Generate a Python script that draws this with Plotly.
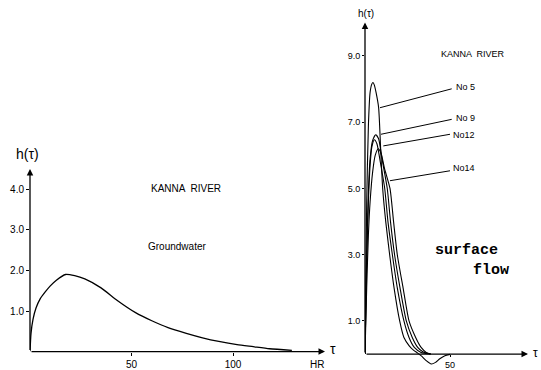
import plotly.graph_objects as go

W, H = 541, 370

# ---------------- data ----------------
# Groundwater unit hydrograph (left panel)
gw_tau = [0, 0.5, 1.5, 3, 5, 7.5, 10, 13, 17.5, 22, 27, 35, 43, 52, 60, 68, 77, 85, 93, 102, 110, 118, 129]
gw_h = [0.0, 0.45, 0.8, 1.08, 1.3, 1.47, 1.62, 1.76, 1.9, 1.87, 1.79, 1.57, 1.26, 0.96, 0.76, 0.59, 0.45, 0.34, 0.25, 0.17, 0.12, 0.07, 0.03]

# Surface flow unit hydrographs (right panel)
no5_tau = [0, 1, 2, 3, 4, 4.7, 5.5, 6.5, 8, 9.2, 10.4, 12.2, 14.5, 17.1, 20.4, 22.9, 26, 28.5, 31, 33.5, 36, 39, 41.5, 44, 47, 50]
no5_h = [0, 4.6, 6.9, 7.9, 8.15, 8.2, 8.12, 7.9, 7.45, 6.2, 5.0, 4.0, 3.0, 2.0, 1.0, 0.5, 0.25, 0.12, 0.03, -0.07, -0.2, -0.3, -0.25, -0.14, -0.05, -0.01]

no9_tau = [0, 1, 2, 3, 4.5, 6.3, 8, 10, 13.1, 15, 17.4, 20.6, 24.3, 27.8, 31, 34, 38.6]
no9_h = [0, 3.0, 4.9, 5.9, 6.45, 6.62, 6.5, 5.9, 5.0, 4.0, 3.0, 2.0, 1.0, 0.5, 0.2, 0.07, 0]

no12_tau = [0, 1, 2, 3, 4, 5.5, 7, 9, 11.6, 13.5, 16.1, 19, 22.9, 25.9, 29, 33, 38.6]
no12_h = [0, 2.8, 4.6, 5.7, 6.25, 6.47, 6.35, 5.8, 5.0, 4.0, 3.0, 2.0, 1.0, 0.5, 0.2, 0.05, 0]

no14_tau = [0, 1, 2, 3, 4.5, 6, 7.8, 9.5, 11.5, 14.7, 16.8, 19, 22.4, 25.9, 29.8, 33, 36, 38.6]
no14_h = [0, 2.0, 3.6, 4.6, 5.5, 6.0, 6.2, 6.05, 5.6, 5.0, 4.0, 3.0, 2.0, 1.0, 0.5, 0.2, 0.05, 0]

left_yticks = [1, 2, 3, 4]
left_yticklabels = ["1.0", "2.0", "3.0", "4.0"]
left_xticks = [50, 100]
left_xticklabels = ["50", "100"]
right_yticks = [1, 3, 5, 7, 9]
right_yticklabels = ["1.0", "3.0", "5.0", "7.0", "9.0"]
right_xticks = [50]
right_xticklabels = ["50"]

series_names = ["No 5", "No 9", "No12", "No14"]

# ---------------- figure ----------------
def px(x):
    return x / W


def py(y):
    return 1 - y / H


LINE = dict(color="black", width=1.3)
FONT = "Liberation Sans"

fig = go.Figure()
fig.add_trace(go.Scatter(x=gw_tau, y=gw_h, mode="lines", line=dict(color="black", width=1.3, shape="spline", smoothing=0.6),
                         xaxis="x", yaxis="y", showlegend=False, hoverinfo="skip"))
for t, h, n in [(no5_tau, no5_h, series_names[0]), (no9_tau, no9_h, series_names[1]),
                (no12_tau, no12_h, series_names[2]), (no14_tau, no14_h, series_names[3])]:
    fig.add_trace(go.Scatter(x=t, y=h, mode="lines", name=n,
                             line=dict(color="black", width=1.1, shape="spline", smoothing=0.6),
                             xaxis="x2", yaxis="y2", showlegend=False, hoverinfo="skip"))

# Left panel geometry: origin (30, 353.5), 2.03 px/hr, 40.8 px/unit
lx0, lx1 = 30, 325
ly0, ly1 = 353.5, 170
lxmax = (lx1 - lx0) / 2.03
lymax = (ly0 - ly1) / 40.8

# Right panel geometry: origin (365, 356), 1.7 px/hr, 33.3 px/unit
rx0, rx1 = 365, 528
rbase = 356
rbot, rtop = 369.3, 22.7
rxmax = (rx1 - rx0) / 1.7
rymin = -(rbot - rbase) / 33.3
rymax = (rbase - rtop) / 33.3

tickfont_l = dict(family=FONT, size=10, color="black")
tickfont_r = dict(family=FONT, size=9, color="black")

fig.update_layout(
    width=W, height=H, margin=dict(l=0, r=0, t=0, b=0),
    paper_bgcolor="white", plot_bgcolor="white",
    xaxis=dict(domain=[px(lx0), px(lx1)], range=[0, lxmax], showgrid=False, zeroline=False, showline=False,
               tickvals=left_xticks, ticktext=left_xticklabels, ticks="outside", ticklen=3, tickcolor="black",
               tickfont=tickfont_l, anchor="y"),
    yaxis=dict(domain=[py(ly0), py(ly1)], range=[0, lymax], showgrid=False, zeroline=False, showline=False,
               tickvals=left_yticks, ticktext=left_yticklabels, ticks="outside", ticklen=3, tickcolor="black",
               tickfont=tickfont_l, anchor="x"),
    xaxis2=dict(domain=[px(rx0), px(rx1)], range=[0, rxmax], showgrid=False, zeroline=False, showline=False,
                tickvals=right_xticks, ticktext=right_xticklabels, ticks="outside", ticklen=2, tickcolor="black",
                tickfont=tickfont_r, anchor="free", position=py(rbase)),
    yaxis2=dict(domain=[py(rbot), py(rtop)], range=[rymin, rymax], showgrid=False, zeroline=False, showline=False,
                tickvals=right_yticks, ticktext=right_yticklabels, ticks="outside", ticklen=2, tickcolor="black",
                tickfont=tickfont_r, anchor="x2"),
)

ann = []
# axis arrows
for xr, yr, x, y in [("x", "y", lxmax, 0), ("x", "y", 0, lymax), ("x2", "y2", rxmax, 0), ("x2", "y2", 0, rymax)]:
    ann.append(dict(x=x, y=y, ax=0, ay=0, xref=xr, yref=yr, axref=xr, ayref=yr, text="", showarrow=True,
                    arrowhead=2, arrowsize=1, arrowwidth=1.3, arrowcolor="black", standoff=0, startstandoff=0))


def txt(s, x, y, size, xanchor="center", family=FONT, bold=False):
    ann.append(dict(text=("<b>%s</b>" % s) if bold else s, x=px(x), y=py(y), xref="paper", yref="paper",
                    showarrow=False, xanchor=xanchor, yanchor="middle",
                    font=dict(family=family, size=size, color="black")))


txt("h(τ)", 27, 155, 14)
txt("τ", 333, 351, 14)
txt("HR", 317, 366, 10)
txt("KANNA  RIVER", 186, 190, 10)
txt("Groundwater", 177, 248, 10)
txt("h(τ)", 366, 14, 10)
txt("τ", 535, 355, 12)
txt("KANNA  RIVER", 473, 54, 9)
txt("surface", 466, 252, 15, family="Liberation Mono", bold=True)
txt("flow", 511, 272, 15, xanchor="right", family="Liberation Mono", bold=True)

# pointer labels for surface-flow curves
pointers = [((380, 108.3), (451.7, 89.3), (454, 87)),
            ((381, 135), (451.7, 120), (454, 119)),
            ((383.3, 146.7), (450, 135), (451, 136)),
            ((390, 181.7), (450, 171.7), (451, 169))]
shapes = []
for name, (p0, p1, pt) in zip(series_names, pointers):
    shapes.append(dict(type="line", xref="x2", yref="y2",
                       x0=(p0[0] - rx0) / 1.7, y0=(rbase - p0[1]) / 33.3,
                       x1=(p1[0] - rx0) / 1.7, y1=(rbase - p1[1]) / 33.3,
                       line=dict(color="black", width=1)))
    txt(name, pt[0], pt[1], 9, xanchor="left")

fig.update_layout(annotations=ann, shapes=shapes)
fig.write_html("out.html")
